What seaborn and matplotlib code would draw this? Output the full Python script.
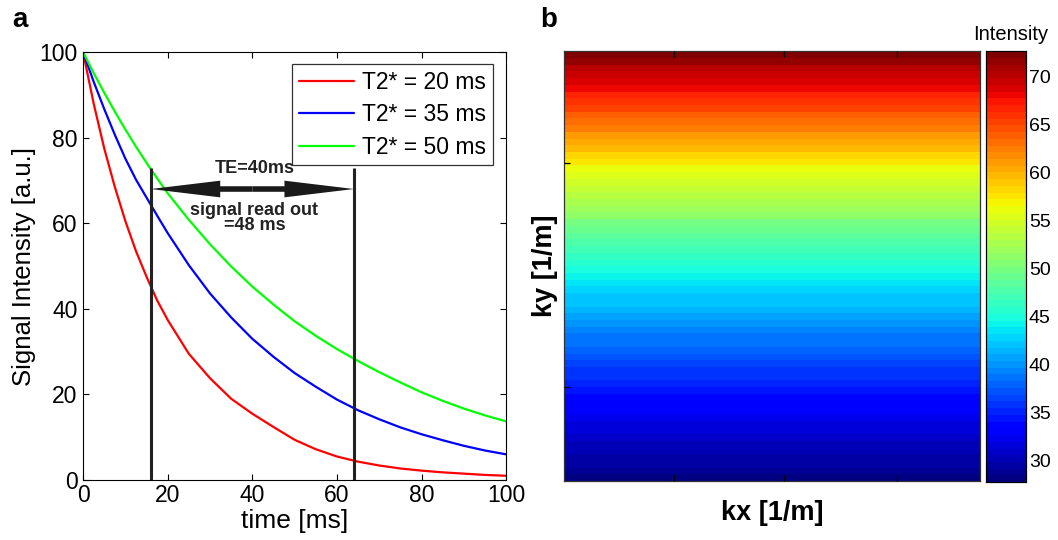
import numpy as np
import pandas as pd
import seaborn as sns
import matplotlib.pyplot as plt

# ---- data ----
time_ms = [0, 2.5, 5, 7.5, 10, 12.5, 15, 17.5, 20, 25, 30, 35, 40, 45, 50,
           55, 60, 65, 70, 75, 80, 85, 90, 95, 100]
sig_20 = [100, 88, 77.5, 68.5, 60.5, 53.5, 47.5, 42, 37.4, 29.5, 23.8, 19, 15.5,
          12.4, 9.4, 7.2, 5.5, 4.3, 3.4, 2.7, 2.2, 1.8, 1.5, 1.2, 1.0]
sig_35 = [100, 93.1, 86.7, 80.7, 75.1, 70.2, 66, 61.8, 57.7, 50.2, 43.6, 38, 33,
          28.8, 25, 21.8, 18.8, 16.3, 14.2, 12.3, 10.7, 9.3, 8.0, 6.9, 6.0]
sig_50 = [100, 95.1, 90.5, 86.1, 81.9, 77.9, 74.1, 70.5, 67.0, 60.8, 55.1, 49.9,
          45.2, 41.0, 37.1, 33.7, 30.6, 27.8, 25.2, 22.8, 20.5, 18.5, 16.7, 15.1, 13.7]
series_labels = ["T2* = 20 ms", "T2* = 35 ms", "T2* = 50 ms"]
series_colors = ["#ff0000", "#0000ff", "#00ff00"]

# intensity per k-space row, top (ky max) to bottom
ky_rows = [72.2, 71.3, 70.4, 69.5, 68.7, 67.8, 66.9, 66.0, 65.0, 64.0, 63.1, 62.1,
           61.2, 60.2, 59.3, 58.3, 57.4, 56.4, 55.6, 54.8, 54.0, 53.2, 52.4, 51.6,
           50.9, 50.1, 49.3, 48.5, 47.7, 47.0, 46.2, 45.4, 44.6, 44.0, 43.5, 42.9,
           42.3, 41.8, 41.2, 40.6, 40.1, 39.5, 38.9, 38.4, 37.8, 37.2, 36.7, 36.1,
           35.6, 35.0, 34.4, 33.9, 33.3, 32.8, 32.4, 31.9, 31.5, 31.0, 30.5, 30.1,
           29.6, 29.2, 28.7, 28.2]
n_kx = 8
cbar_ticks = [30, 35, 40, 45, 50, 55, 60, 65, 70]

te_start, te_end = 16, 64
te_mid = (te_start + te_end) / 2

# ---- figure ----
sns.set_style("ticks")
plt.rcParams["font.family"] = ["Liberation Sans", "DejaVu Sans"]
for key in ["text.color", "axes.labelcolor", "xtick.color", "ytick.color",
            "axes.edgecolor"]:
    plt.rcParams[key] = "black"
plt.rcParams["xtick.direction"] = "in"
plt.rcParams["ytick.direction"] = "in"

fig = plt.figure(figsize=(10.58, 5.4), dpi=100)
ax1 = fig.add_axes([0.0785, 0.111, 0.40, 0.7926])
ax2 = fig.add_axes([0.533, 0.109, 0.393, 0.796])
cax = fig.add_axes([0.932, 0.107, 0.0378, 0.798])

# panel a: decay curves
df = pd.DataFrame({"time": time_ms * 3,
                   "signal": sig_20 + sig_35 + sig_50,
                   "T2": np.repeat(series_labels, len(time_ms))})
sns.lineplot(data=df, x="time", y="signal", hue="T2", palette=series_colors,
             linewidth=1.6, ax=ax1)
ax1.set_xlim(0, 100)
ax1.set_ylim(0, 100)
ax1.set_xticks(range(0, 101, 20))
ax1.set_yticks(range(0, 101, 20))
ax1.tick_params(labelsize=16.5, length=4, top=True, right=True, width=0.8)
ax1.tick_params(axis="x", pad=3)
ax1.tick_params(axis="y", pad=4)
ax1.set_xlabel("time [ms]", fontsize=19, labelpad=1)
ax1.set_ylabel("Signal Intensity [a.u.]", fontsize=18.5, labelpad=2)
for s in ax1.spines.values():
    s.set_linewidth(0.8)
leg = ax1.legend(loc="upper right", fontsize=16.5, frameon=True, fancybox=False,
                 edgecolor="black", handlelength=2.4, handletextpad=0.35,
                 borderpad=0.3, labelspacing=0.4, bbox_to_anchor=(0.995, 0.998))
leg.get_frame().set_linewidth(0.9)

# TE / readout annotation
ax1.vlines([te_start, te_end], 0, 73, colors="#222222", linewidth=2.2)
for end in (te_start, te_end):
    ax1.annotate("", xy=(end, 68), xytext=(te_mid, 68),
                 arrowprops=dict(arrowstyle="simple,head_length=5,head_width=1.2,tail_width=0.4",
                                 color="#1a1a1a", lw=0, shrinkA=0, shrinkB=0))
ax1.text(40.5, 70.8, "TE=40ms", ha="center", va="bottom", fontsize=13,
         fontweight="bold", color="#222222")
ax1.text(40.5, 65, "signal read out\n=48 ms", ha="center", va="top",
         fontsize=13, fontweight="bold", color="#222222", linespacing=0.85)

# panel b: k-space intensity map
kmap = np.tile(np.array(ky_rows)[:, None], (1, n_kx))
jet = plt.get_cmap("jet", 64)
sns.heatmap(kmap, cmap=jet, vmin=27.7, vmax=72.6, ax=ax2, cbar_ax=cax,
            xticklabels=False, yticklabels=False,
            cbar_kws={"ticks": cbar_ticks})
ax2.set_xticks([n_kx * 0.264, n_kx * 0.53, n_kx * 0.80])
ax2.set_yticks([len(ky_rows) * 0.26, len(ky_rows) * 0.78])
ax2.set_xticklabels([])
ax2.set_yticklabels([])
ax2.tick_params(length=4, width=0.9, colors="black", top=True, right=False,
                bottom=True, left=True)
ax2.set_axisbelow(False)
for s in ax2.spines.values():
    s.set_visible(True)
    s.set_linewidth(0.9)
    s.set_color("#333333")
ax2.set_xlabel("kx [1/m]", fontsize=19.5, fontweight="bold", labelpad=10)
ax2.set_ylabel("ky [1/m]", fontsize=19.5, fontweight="bold", labelpad=1)

cax.tick_params(labelsize=14, direction="in", length=3, left=True, right=True,
                pad=2)
for s in cax.spines.values():
    s.set_visible(True)
    s.set_linewidth(0.8)
cax.set_title("Intensity", fontsize=14.5, pad=8, x=0.62)

fig.text(0.019, 0.963, "a", fontsize=20, fontweight="bold", ha="center", va="center")
fig.text(0.519, 0.963, "b", fontsize=20, fontweight="bold", ha="center", va="center")

fig.savefig("out.png", dpi=100)
